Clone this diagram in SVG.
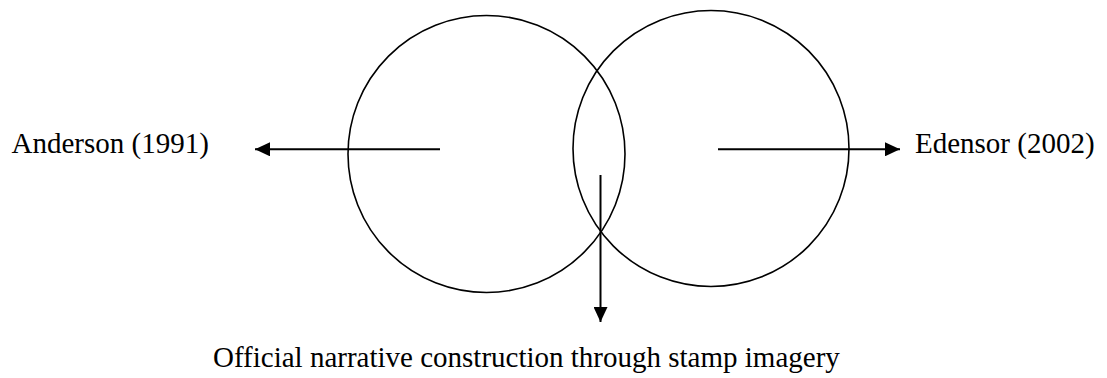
<svg xmlns="http://www.w3.org/2000/svg" width="1107" height="378" viewBox="0 0 1107 378">
  <style>
    .circ { fill: none; stroke: #000; stroke-width: 1.6; }
    .conn { fill: none; stroke: #000; stroke-width: 2; }
    .lbl { font-family: "Liberation Serif", "Times New Roman", serif; font-size: 29px; fill: #000; }
  </style>
  <defs>
    <marker id="ah" markerUnits="userSpaceOnUse" markerWidth="15" markerHeight="14" refX="15" refY="7" orient="auto">
      <path d="M0,0 L15,7 L0,14 z" fill="#000"/>
    </marker>
  </defs>
  <rect width="1107" height="378" fill="#fff"/>
  <g id="circle-left">
    <circle class="circ" cx="486.5" cy="154" r="138.5"/>
  </g>
  <g id="circle-right">
    <circle class="circ" cx="711" cy="148.5" r="138"/>
  </g>
  <g id="connectors">
    <line class="conn" x1="440" y1="149.3" x2="255" y2="149.3" marker-end="url(#ah)"/>
    <line class="conn" x1="718" y1="149.3" x2="900" y2="149.3" marker-end="url(#ah)"/>
    <line class="conn" x1="600.5" y1="175" x2="600.5" y2="322" marker-end="url(#ah)"/>
  </g>
  <g id="label-anderson">
    <text class="lbl" x="11.5" y="153.3">Anderson (1991)</text>
  </g>
  <g id="label-edensor">
    <text class="lbl" x="915" y="153.3">Edensor (2002)</text>
  </g>
  <g id="label-official">
    <text class="lbl" x="213" y="367">Official narrative construction through stamp imagery</text>
  </g>
</svg>
